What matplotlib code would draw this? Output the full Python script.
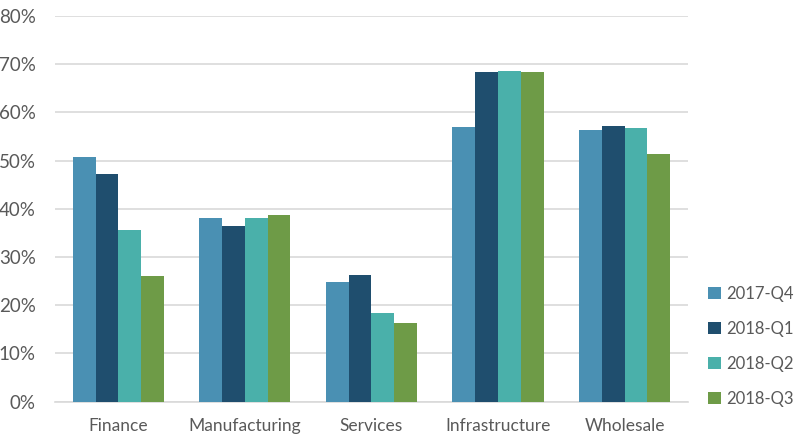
import matplotlib
matplotlib.use("Agg")
import matplotlib.pyplot as plt
import numpy as np

categories = ["Finance", "Manufacturing", "Services", "Infrastructure", "Wholesale"]
series = ["2017-Q4", "2018-Q1", "2018-Q2", "2018-Q3"]
q4_2017 = [50.8, 38.0, 24.8, 57.0, 56.3]
q1_2018 = [47.3, 36.4, 26.3, 68.5, 57.1]
q2_2018 = [35.7, 38.0, 18.3, 68.6, 56.8]
q3_2018 = [26.0, 38.7, 16.3, 68.5, 51.4]
values = [q4_2017, q1_2018, q2_2018, q3_2018]
colors = ["#4A90B3", "#1F4E6E", "#4AB0AA", "#6E9B47"]
yticks = [0, 10, 20, 30, 40, 50, 60, 70, 80]

plt.rcParams['font.family'] = ['Lato', 'DejaVu Sans']
fig = plt.figure(figsize=(7.98, 4.36), dpi=100)
ax = fig.add_axes([0.069, 0.079, 0.793, 0.884])

x = np.arange(len(categories))
bw = 0.18
for i, (vals, c, lab) in enumerate(zip(values, colors, series)):
    ax.bar(x + (i - 1.5) * bw, vals, bw, color=c, label=lab, zorder=3,
           edgecolor='none')

ax.set_xlim(-0.5, len(categories) - 0.5)
ax.set_ylim(0, 80)
ax.set_yticks(yticks)
ax.set_yticklabels([f"{t}%" for t in yticks])
ax.set_xticks(x)
ax.set_xticklabels(categories)
ax.tick_params(axis='both', length=0, colors='#595959')
ax.tick_params(axis='x', pad=12, labelsize=12.5)
ax.tick_params(axis='y', pad=14, labelsize=13.5)
ax.grid(axis='y', color='#D9D9D9', linewidth=1.2, zorder=0)
for s in ['top', 'right', 'left']:
    ax.spines[s].set_visible(False)
ax.spines['bottom'].set_color('#D9D9D9')
ax.spines['bottom'].set_linewidth(1.2)

leg = ax.legend(loc='upper left', bbox_to_anchor=(1.022, 0.318), frameon=False,
                fontsize=12, handlelength=0.75, handleheight=0.75,
                handletextpad=0.3, labelspacing=1.15, borderaxespad=0)
for t in leg.get_texts():
    t.set_color('#595959')

fig.savefig("out.png", dpi=100)
